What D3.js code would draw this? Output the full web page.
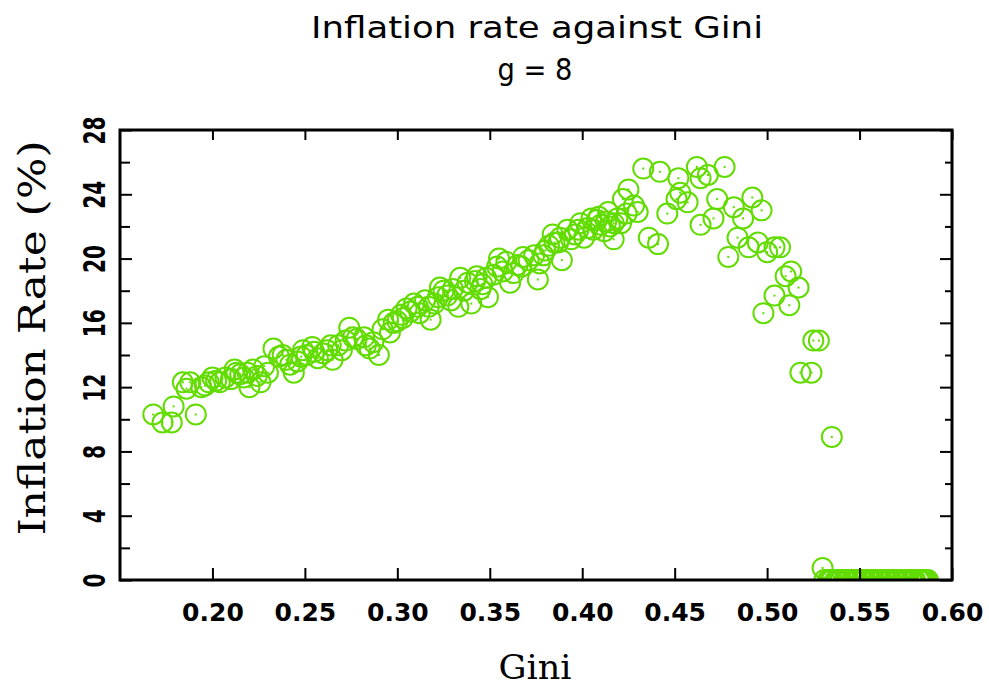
<!DOCTYPE html>
<html>
<head>
<meta charset="utf-8">
<script src="https://cdn.jsdelivr.net/npm/d3@7"></script>
<style>
  body { margin: 0; background: #fff; }
  svg { display: block; }
</style>
</head>
<body>
<div id="chart"></div>
<script>
/**
 * DATA
 * */
const giniValues = [
  0.168, 0.173, 0.178, 0.179, 0.191, 0.184, 0.188, 0.194, 0.198, 0.200,
  0.204, 0.210, 0.212, 0.215, 0.219, 0.222, 0.220, 0.226, 0.230, 0.233,
  0.236, 0.240, 0.244, 0.248, 0.249, 0.254, 0.257, 0.260, 0.264, 0.265,
  0.270, 0.274, 0.276, 0.282, 0.283, 0.287, 0.290, 0.295, 0.296, 0.298,
  0.302, 0.303, 0.305, 0.309, 0.312, 0.315, 0.318, 0.320, 0.323, 0.327,
  0.330, 0.333, 0.334, 0.338, 0.340, 0.343, 0.346, 0.349, 0.354, 0.355,
  0.359, 0.361, 0.363, 0.367, 0.368, 0.374, 0.376, 0.377, 0.380, 0.384,
  0.385, 0.388, 0.389, 0.392, 0.396, 0.399, 0.401, 0.405, 0.406, 0.408,
  0.410, 0.412, 0.414, 0.415, 0.417, 0.417, 0.421, 0.422, 0.425, 0.428,
  0.430, 0.433, 0.436, 0.441, 0.442, 0.446, 0.451, 0.452, 0.453, 0.457,
  0.462, 0.464, 0.464, 0.468, 0.471, 0.473, 0.477, 0.479, 0.482, 0.484,
  0.487, 0.490, 0.492, 0.495, 0.497, 0.498, 0.500, 0.504, 0.504, 0.507,
  0.510, 0.512, 0.513, 0.517, 0.518, 0.524, 0.525, 0.528, 0.535, 0.530,
  0.186, 0.196, 0.202, 0.207, 0.213, 0.217, 0.224, 0.228, 0.238, 0.242,
  0.246, 0.251, 0.255, 0.262, 0.268, 0.272, 0.278, 0.285, 0.292, 0.300,
  0.307, 0.311, 0.317, 0.322, 0.325, 0.329, 0.336, 0.342, 0.345, 0.348,
  0.352, 0.357, 0.365, 0.371, 0.379, 0.382, 0.387, 0.394, 0.398, 0.403,
  0.409, 0.413, 0.419, 0.424
];
const inflationValues = [
  10.3, 9.8, 9.8, 10.8, 10.3, 12.3, 12.3, 12.0, 12.3, 12.6,
  12.3, 12.5, 13.1, 12.8, 12.9, 13.1, 12.0, 12.3, 12.9, 14.4,
  13.9, 13.7, 12.9, 13.9, 14.3, 14.5, 13.8, 14.1, 14.6, 13.7,
  14.3, 15.7, 15.1, 15.1, 14.6, 14.8, 14.0, 16.2, 15.4, 16.0,
  16.5, 16.3, 16.9, 17.2, 16.6, 17.4, 16.2, 17.2, 18.2, 17.7,
  18.1, 17.0, 18.8, 18.5, 17.2, 18.9, 18.4, 17.6, 19.5, 20.0,
  19.8, 18.5, 19.1, 19.5, 20.1, 20.2, 18.7, 19.7, 20.5, 21.5,
  21.0, 21.3, 19.9, 21.8, 21.5, 22.2, 21.3, 22.5, 21.8, 22.4,
  22.1, 21.7, 22.9, 22.0, 21.2, 22.2, 22.2, 23.7, 24.3, 23.3,
  22.9, 25.6, 21.3, 20.9, 25.4, 22.8, 23.7, 25.0, 24.1, 23.5,
  25.7, 25.0, 22.1, 25.2, 22.5, 23.7, 25.7, 20.1, 23.2, 21.3,
  22.5, 20.7, 23.8, 21.0, 23.0, 16.6, 20.4, 20.7, 17.7, 20.7,
  18.9, 17.1, 19.2, 18.2, 12.9, 12.9, 14.9, 14.9, 8.9, 0.75,
  11.9, 12.1, 12.4, 12.6, 12.9, 12.6, 12.7, 13.3, 14.0, 13.4,
  13.6, 14.0, 14.2, 14.3, 14.6, 14.9, 15.0, 14.4, 15.6, 16.1,
  16.7, 17.0, 17.0, 17.6, 18.0, 17.4, 18.0, 18.6, 18.1, 18.8,
  19.0, 19.2, 19.6, 19.9, 20.2, 20.8, 21.0, 21.2, 21.8, 21.9,
  22.6, 22.3, 22.5, 22.8
];
// runs where inflation dropped to zero (dense band along the x axis)
const zeroBandGini = [
  0.531, 0.533, 0.534, 0.535, 0.537, 0.538, 0.539, 0.540, 0.542, 0.543,
  0.544, 0.546, 0.547, 0.548, 0.549, 0.551, 0.552, 0.553, 0.555, 0.556,
  0.557, 0.558, 0.560, 0.561, 0.562, 0.564, 0.565, 0.566, 0.567, 0.569,
  0.570, 0.571, 0.573, 0.574, 0.575, 0.576, 0.578, 0.579, 0.580, 0.582,
  0.583, 0.584, 0.585, 0.586, 0.587
];

const xTicks = [0.20, 0.25, 0.30, 0.35, 0.40, 0.45, 0.50, 0.55, 0.60];
const yTicks = [0, 4, 8, 12, 16, 20, 24, 28];
const yMinorTicks = [2, 6, 10, 14, 18, 22, 26];

/**
 * CONSTANTS
 * */
const width = 989,
  height = 689,
  margin = { top: 130, bottom: 109, left: 120, right: 37 };
const green = "#62dc00";

const points = giniValues.map((g, i) => ({ gini: g, rate: inflationValues[i] }))
  .concat(zeroBandGini.map(g => ({ gini: g, rate: 0 })));

const svg = d3.select("#chart").append("svg")
  .attr("width", width)
  .attr("height", height);

const x = d3.scaleLinear().domain([0.15, 0.60]).range([margin.left, width - margin.right]);
const y = d3.scaleLinear().domain([0, 28]).range([height - margin.bottom, margin.top]);

svg.append("clipPath").attr("id", "plot-clip")
  .append("rect")
  .attr("x", margin.left)
  .attr("y", margin.top)
  .attr("width", width - margin.left - margin.right)
  .attr("height", height - margin.top - margin.bottom);

// + POINTS
const pts = svg.append("g").attr("clip-path", "url(#plot-clip)");
pts.selectAll("circle")
  .data(points)
  .join("circle")
  .attr("cx", d => x(d.gini))
  .attr("cy", d => y(d.rate))
  .attr("r", 10)
  .attr("fill", "none")
  .attr("stroke", green)
  .attr("stroke-width", 2);
pts.selectAll("rect.dot")
  .data(points)
  .join("rect")
  .attr("class", "dot")
  .attr("x", d => x(d.gini) - 1)
  .attr("y", d => y(d.rate) - 1)
  .attr("width", 2)
  .attr("height", 2)
  .attr("fill", green);

// + AXES
function styleAxis(g) {
  g.select(".domain").remove();
  g.selectAll(".tick line").attr("stroke", "#000").attr("stroke-width", 2);
}

svg.append("g")
  .attr("transform", `translate(0,${y(0)})`)
  .call(d3.axisBottom(x).tickValues(xTicks).tickSize(-12).tickSizeOuter(0)
    .tickPadding(23).tickFormat(d3.format(".2f")))
  .call(styleAxis)
  .call(g => g.selectAll("text")
    .attr("fill", "#000")
    .attr("font-family", "DejaVu Sans")
    .attr("font-weight", "bold")
    .attr("font-size", 25));

svg.append("g")
  .attr("transform", `translate(0,${y(28)})`)
  .call(d3.axisTop(x).tickValues(xTicks).tickSize(-10).tickSizeOuter(0).tickFormat(""))
  .call(styleAxis);

svg.append("g")
  .attr("transform", `translate(${x(0.15)},0)`)
  .call(d3.axisLeft(y).tickValues(yTicks).tickSize(-12).tickSizeOuter(0).tickFormat(d => d))
  .call(styleAxis)
  .call(g => g.selectAll("text")
    .attr("fill", "#000")
    .attr("font-family", "DejaVu Sans")
    .attr("font-weight", "bold")
    .attr("font-size", 31)
    .attr("text-anchor", "middle")
    .attr("transform", "rotate(-90)")
    .attr("x", 0)
    .attr("y", -15)
    .attr("dy", null)
    .attr("textLength", d => String(d).length * 14)
    .attr("lengthAdjust", "spacingAndGlyphs"));

svg.append("g")
  .attr("transform", `translate(${x(0.15)},0)`)
  .call(d3.axisLeft(y).tickValues(yMinorTicks).tickSize(-10).tickSizeOuter(0).tickFormat(""))
  .call(styleAxis);

svg.append("g")
  .attr("transform", `translate(${x(0.60)},0)`)
  .call(d3.axisRight(y).tickValues(yTicks).tickSize(-12).tickSizeOuter(0).tickFormat(""))
  .call(styleAxis);

svg.append("g")
  .attr("transform", `translate(${x(0.60)},0)`)
  .call(d3.axisRight(y).tickValues(yMinorTicks).tickSize(-7).tickSizeOuter(0).tickFormat(""))
  .call(styleAxis);

// border
svg.append("rect")
  .attr("x", x(0.15))
  .attr("y", y(28))
  .attr("width", x(0.60) - x(0.15))
  .attr("height", y(0) - y(28))
  .attr("fill", "none")
  .attr("stroke", "#000")
  .attr("stroke-width", 3);

// + TITLES
svg.append("text")
  .attr("x", 537).attr("y", 38)
  .attr("text-anchor", "middle")
  .attr("font-family", "DejaVu Sans")
  .attr("font-size", 31)
  .attr("textLength", 452)
  .attr("lengthAdjust", "spacingAndGlyphs")
  .text("Inflation rate against Gini");

svg.append("text")
  .attr("x", 535).attr("y", 80)
  .attr("text-anchor", "middle")
  .attr("font-family", "DejaVu Sans")
  .attr("font-size", 31)
  .attr("textLength", 75)
  .attr("lengthAdjust", "spacingAndGlyphs")
  .text("g = 8");

svg.append("text")
  .attr("x", 535).attr("y", 679)
  .attr("text-anchor", "middle")
  .attr("font-family", "DejaVu Serif")
  .attr("font-size", 34)
  .attr("textLength", 73)
  .attr("lengthAdjust", "spacingAndGlyphs")
  .text("Gini");

svg.append("text")
  .attr("transform", "translate(45,338) rotate(-90)")
  .attr("text-anchor", "middle")
  .attr("font-family", "DejaVu Serif")
  .attr("font-size", 38)
  .attr("textLength", 395)
  .attr("lengthAdjust", "spacingAndGlyphs")
  .text("Inflation Rate (%)");
</script>
</body>
</html>
